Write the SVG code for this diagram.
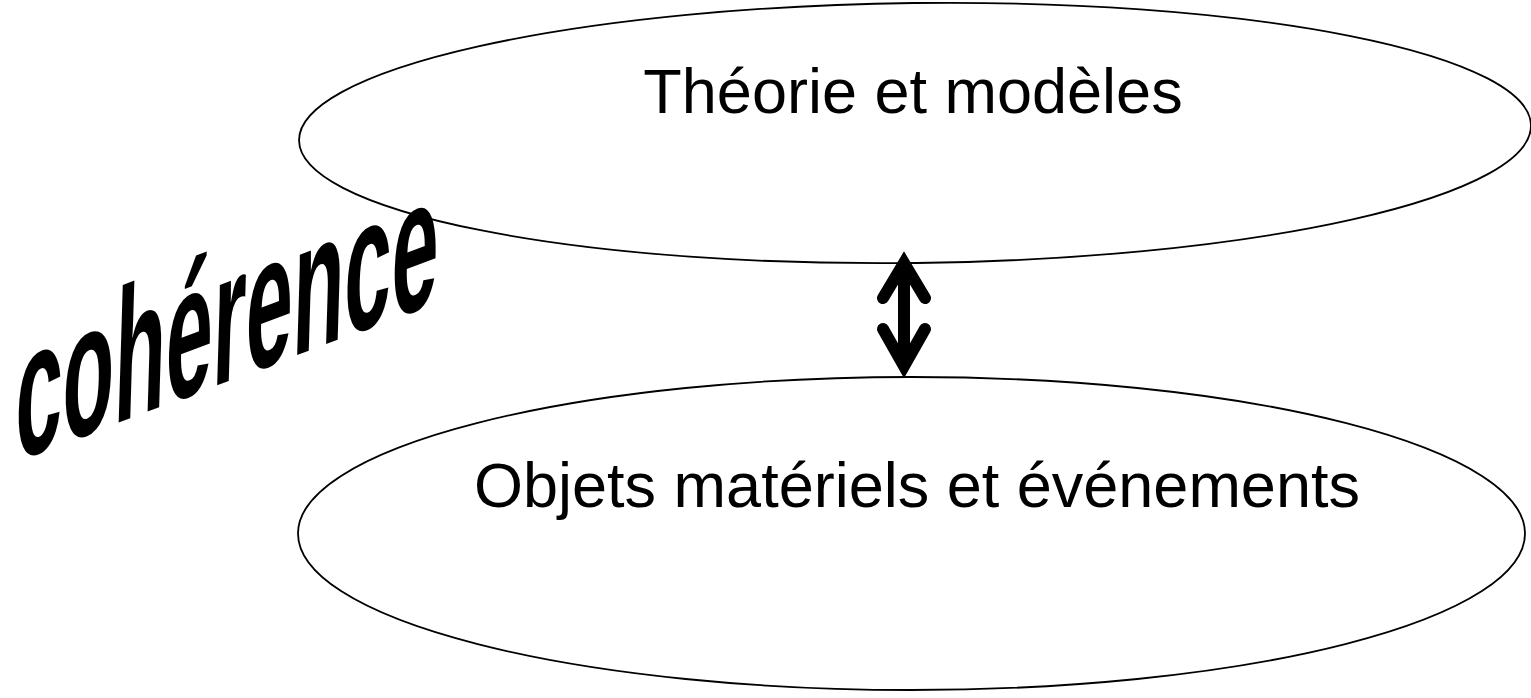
<svg xmlns="http://www.w3.org/2000/svg" width="1531" height="698" viewBox="0 0 1531 698">
<style>
.ell{fill:none;stroke:#000;stroke-width:1.8}
.lbl{font-family:"Liberation Sans",Arial,sans-serif;font-size:63px;fill:#000;text-anchor:middle}
.arr{fill:none;stroke:#000;stroke-width:12}
</style>
<rect width="1531" height="698" fill="#fff"/>
<g id="node-theorie">
<ellipse class="ell" cx="915" cy="133" rx="616" ry="130" transform="rotate(-0.7 915 133)"/>
<text class="lbl" x="913" y="113">Théorie et modèles</text>
</g>
<g id="node-objets">
<ellipse class="ell" cx="911.5" cy="533.5" rx="613.5" ry="156.5"/>
<text class="lbl" x="917" y="507">Objets matériels et événements</text>
</g>
<g id="connectors">
<path class="arr" d="M904,266 L904,363"/>
<path class="arr" d="M883,298 L904,263 L925,298" stroke-linecap="round" stroke-linejoin="miter" stroke-miterlimit="10"/>
<path class="arr" d="M883,329 L904,366 L925,329" stroke-linecap="round" stroke-linejoin="miter" stroke-miterlimit="10"/>
</g>
<g id="coherence">
<text x="0" y="0" font-family="Liberation Sans,Arial,sans-serif" font-weight="bold" font-size="190" fill="#000" transform="matrix(0.445,-0.168,-0.03,1,14,462)">cohérence</text>
</g>
</svg>
